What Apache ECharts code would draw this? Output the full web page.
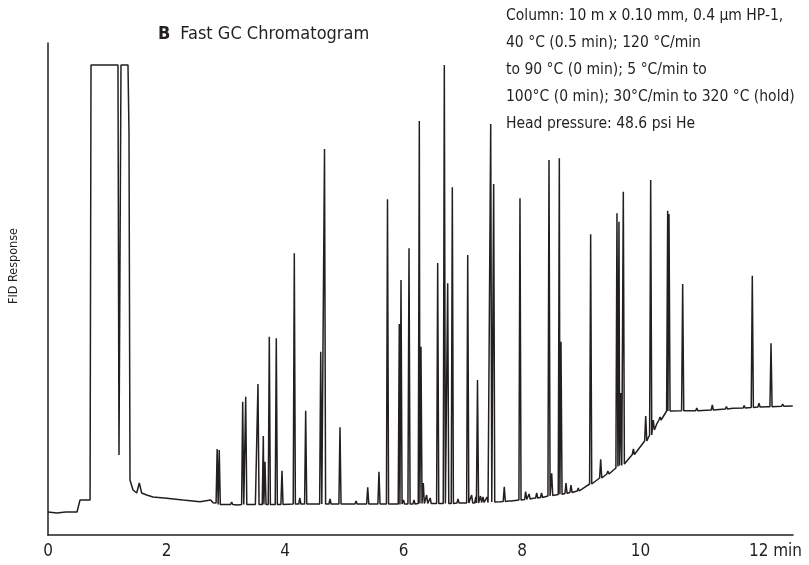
<!DOCTYPE html>
<html>
<head>
<meta charset="utf-8">
<script src="https://cdn.jsdelivr.net/npm/echarts@6/dist/echarts.min.js"></script>
<style>
html,body{margin:0;padding:0;background:#fff;}
#chart{width:809px;height:565px;}
</style>
</head>
<body>
<div id="chart"></div>
<script>
// ---- data (time in min, response in arbitrary units) ----
const tickLabels = ['0', '2', '4', '6', '8', '10', '12 min'];

// baseline / solvent trace: [time, response]
const baseline = [
  [0, 23], [0.15, 22], [0.3, 23], [0.49, 23], [0.54, 35], [0.71, 35],
  [0.726, 470], [1.181, 470], [1.198, 80], [1.232, 470], [1.35, 470],
  [1.367, 403], [1.384, 55], [1.435, 45], [1.497, 42], [1.541, 52],
  [1.581, 42], [1.666, 40], [1.772, 38], [2.003, 36.7], [2.278, 35],
  [2.565, 33.3], [2.746, 35], [2.785, 32.3], [2.93, 30], [3.2, 30],
  [3.5, 30.5], [4.5, 31], [5.5, 31], [5.94, 30.5], [6.5, 31.7],
  [7.07, 32], [7.63, 33.3], [8.19, 36.7], [8.76, 41.7], [9.03, 46.7],
  [9.32, 56.7], [9.6, 66.7], [9.87, 80], [10.11, 95], [10.28, 111.7],
  [10.45, 123.3], [10.5, 124.3], [11.0, 124.3], [11.56, 126.7],
  [12.14, 128.3], [12.57, 129]
];

// peaks: retention time, apex response, foot (baseline) response
const peakTimes = [
  2.855, 2.89, 3.286, 3.337, 3.544, 3.634, 3.662, 3.735, 3.853, 3.949,
  4.157, 4.349, 4.603, 4.667, 4.928, 5.396, 5.586, 5.730, 5.929, 5.958,
  6.093, 6.177, 6.267, 6.295, 6.334, 6.391, 6.577, 6.689, 6.746, 6.824,
  7.084, 7.249, 7.342, 7.409, 7.472, 7.522, 7.701, 7.966, 8.062, 8.248,
  8.456, 8.501, 8.630, 8.658, 8.743, 8.827, 9.159, 9.328, 9.603, 9.637,
  9.666, 9.710, 10.088, 10.172, 10.216, 10.459, 10.481, 10.712, 11.212,
  11.887, 12.0, 12.203,
  3.10, 4.25, 4.76, 5.05, 5.20, 6.00, 6.45, 6.92, 7.15, 7.22, 7.30,
  7.80, 8.12, 8.33, 8.95, 9.45, 9.88, 10.33, 10.95, 11.45, 11.75, 12.40
];
const peakApex = [
  86, 85, 133.3, 138.3, 151, 99, 73.3, 198.3, 196.7, 64.3,
  281.7, 124.3, 183.3, 386, 107.7, 47.7, 63.3, 335.7, 211, 255,
  286.7, 35, 414, 188.3, 52, 40, 272, 470, 251.7, 347.7,
  280, 155, 38, 38, 411, 351, 48.3, 336.7, 43.3, 42,
  375, 61.7, 376.7, 193.3, 52, 50, 300.7, 75.7, 321.7, 313.3,
  142, 343.3, 119, 355, 115, 324.3, 321, 251, 130,
  259.3, 131.7, 191.7,
  33, 37, 36, 33, 34, 35, 37, 36, 40, 38, 39,
  36, 41, 42, 47, 64, 86, 118, 127, 128.5, 129.5, 131
];
const peakFoot = [
  32, 30.5, 30.5, 30.5, 30.5, 30.5, 30.5, 30.5, 30.5, 30.5,
  31, 31, 31, 31, 31, 31, 31, 31, 31, 31,
  31, 31, 31.5, 31.5, 31.5, 31.5, 31.5, 31.5, 31.5, 31.5,
  32, 32, 32.5, 32.5, 33, 33, 33.5, 35, 35.5, 37,
  39, 39.5, 40.5, 40.7, 41.5, 42.5, 51, 57, 67, 68.5,
  69.5, 71, 94, 100, 105, 124, 124, 124.3, 125,
  127.5, 128, 128.3,
  30.5, 31, 31, 31, 31, 31, 31.5, 32, 32, 32, 32.5,
  34, 36, 37.5, 44, 61, 80.5, 115, 124.3, 126, 127, 128.7
];

// ---- build the trace from the arrays ----
const HW = 0.018;
const trace = baseline.map(p => p.slice());
for (let i = 0; i < peakTimes.length; i++) {
  const t = peakTimes[i];
  trace.push([t - HW, peakFoot[i]], [t, peakApex[i]], [t + HW, peakFoot[i]]);
}
trace.sort((a, b) => a[0] - b[0]);

const FONT = '"DejaVu Sans Condensed", "Liberation Sans Narrow", "Liberation Sans", sans-serif';
const INK = '#231f20';

const chart = echarts.init(document.getElementById('chart'), null, {renderer: 'canvas'});
chart.setOption({
  animation: false,
  backgroundColor: '#ffffff',
  title: {
    text: '{b|B}{n|Fast GC Chromatogram}',
    left: 153,
    top: 20,
    textStyle: {
      rich: {
        b: {fontFamily: FONT, fontSize: 18, fontWeight: 'bold', color: INK, padding: [0, 10, 0, 0]},
        n: {fontFamily: FONT, fontSize: 18, fontWeight: 'normal', color: INK}
      }
    }
  },
  grid: {left: 48, right: 16, top: 43, bottom: 30, containLabel: false},
  xAxis: {
    type: 'value',
    min: 0,
    max: 12.574,
    interval: 2,
    axisLine: {show: true, onZero: false, lineStyle: {color: INK, width: 1.5}},
    axisTick: {show: false},
    splitLine: {show: false},
    axisLabel: {
      margin: 8,
      fontFamily: FONT,
      fontSize: 17,
      color: INK,
      formatter: function (v) {
        const idx = Math.round(v / 2);
        if (Math.abs(v - idx * 2) > 1e-6 || idx < 0 || idx >= tickLabels.length) return '';
        if (idx === tickLabels.length - 1) return '{m|' + tickLabels[idx] + '}';
        return tickLabels[idx];
      },
      rich: {
        m: {fontFamily: FONT, fontSize: 17, color: INK, padding: [0, 0, 0, 33]}
      }
    }
  },
  yAxis: {
    type: 'value',
    min: 0,
    max: 492,
    axisLine: {show: true, lineStyle: {color: INK, width: 1.5}},
    axisTick: {show: false},
    axisLabel: {show: false},
    splitLine: {show: false}
  },
  graphic: [
    {
      type: 'text',
      x: 14, y: 266,
      rotation: Math.PI / 2,
      style: {
        text: 'FID Response',
        fontFamily: FONT, fontSize: 12.5, fill: INK,
        align: 'center', verticalAlign: 'middle'
      }
    },
    {
      type: 'text',
      left: 506, top: 2,
      style: {
        text: 'Column: 10 m x 0.10 mm, 0.4 \u03bcm HP-1,\n40 \u00b0C (0.5 min); 120 \u00b0C/min\nto 90 \u00b0C (0 min); 5 \u00b0C/min to\n100\u00b0C (0 min); 30\u00b0C/min to 320 \u00b0C (hold)\nHead pressure: 48.6 psi He',
        fontFamily: FONT, fontSize: 15.5, lineHeight: 27.2, fill: INK
      }
    }
  ],
  series: [{
    type: 'line',
    data: trace,
    showSymbol: false,
    symbol: 'none',
    lineStyle: {color: INK, width: 1.5},
    clip: true
  }]
});
</script>
</body>
</html>
